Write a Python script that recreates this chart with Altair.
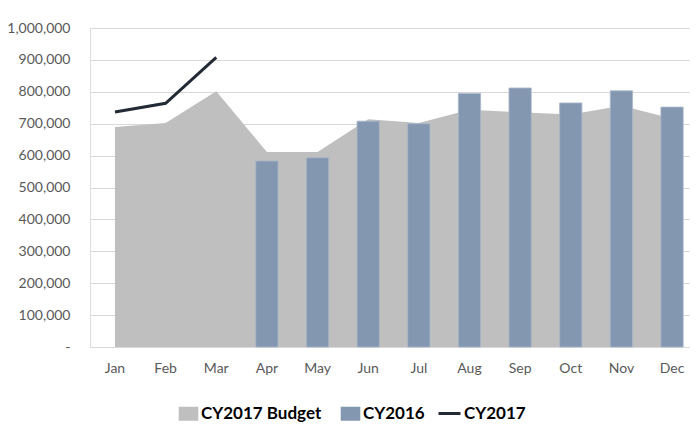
import altair as alt
import pandas as pd

months = ["Jan", "Feb", "Mar", "Apr", "May", "Jun", "Jul", "Aug", "Sep", "Oct", "Nov", "Dec"]
budget_2017 = [690000, 702000, 802000, 611000, 611000, 714000, 702000, 744000, 736000, 729000, 756000, 716000]
cy2016 = [None, None, None, 583000, 593000, 708000, 700000, 795000, 812000, 765000, 803000, 752000]
cy2017 = [737000, 764000, 908000]
y_ticks = [0, 100000, 200000, 300000, 400000, 500000, 600000, 700000, 800000, 900000, 1000000]

budget_df = pd.DataFrame({"month": months, "value": budget_2017, "series": "CY2017 Budget"})
bars_df = pd.DataFrame({"month": months, "value": cy2016, "series": "CY2016"}).dropna()
line_df = pd.DataFrame({"month": months[:3], "value": cy2017, "series": "CY2017"})

FONT = "Lato"
x_scale = alt.Scale(domain=months, paddingInner=0.56, paddingOuter=0.204, align=0.67)
y_scale = alt.Scale(domain=[0, 1000000])

fill_scale = alt.Scale(domain=["CY2017 Budget", "CY2016"], range=["#BFBFBF", "#8497B0"])
stroke_scale = alt.Scale(domain=["CY2017"], range=["#222A35"])

y_axis = alt.Axis(
    title=None, values=y_ticks,
    labelExpr="datum.value == 0 ? '-' : format(datum.value, ',')",
    grid=True, gridColor="#D9D9D9", domain=False, ticks=False, labelOverlap=False,
    labelPadding=20, labelFontSize=14, labelColor="#595959", labelFont=FONT,
)
x_axis = alt.Axis(
    title=None, labelAngle=0, ticks=False, domain=True, domainColor="#D9D9D9",
    labelPadding=14, labelFontSize=14, labelColor="#595959", labelFont=FONT, grid=False,
)

fill_legend = alt.Legend(
    title=None, orient="none", legendX=90, legendY=377, direction="horizontal",
    symbolType="M-1.4,-1H1.4V1H-1.4Z", symbolSize=196, symbolStrokeWidth=0,
    labelFont=FONT, labelFontSize=17, labelFontWeight="bold", labelColor="#000000",
    labelOffset=4, columnPadding=18,
)
stroke_legend = alt.Legend(
    title=None, orient="none", legendX=347, legendY=373, direction="horizontal",
    symbolType="stroke", symbolSize=484, symbolStrokeWidth=3,
    labelFont=FONT, labelFontSize=17, labelFontWeight="bold", labelColor="#000000",
    labelOffset=2,
)

area = alt.Chart(budget_df).mark_area(opacity=1).encode(
    x=alt.X("month:N", scale=x_scale, axis=x_axis, sort=months, bandPosition=0.5),
    y=alt.Y("value:Q", scale=y_scale, axis=y_axis),
    color=alt.Color("series:N", scale=fill_scale, legend=fill_legend),
)

bars = alt.Chart(bars_df).mark_bar(stroke="#A9B7CA", strokeWidth=0.8).encode(
    x=alt.X("month:N", scale=x_scale, axis=x_axis, sort=months),
    y=alt.Y("value:Q", scale=y_scale, axis=y_axis),
    color=alt.Color("series:N", scale=fill_scale, legend=fill_legend),
)

line = alt.Chart(line_df).mark_line(strokeWidth=3).encode(
    x=alt.X("month:N", scale=x_scale, axis=x_axis, sort=months, bandPosition=0.5),
    y=alt.Y("value:Q", scale=y_scale, axis=y_axis),
    stroke=alt.Stroke("series:N", scale=stroke_scale, legend=stroke_legend),
)

chart = alt.layer(area, bars, line).properties(
    width=600, height=319,
    autosize=alt.AutoSizeParams(type="none"),
    padding={"left": 82, "top": 20, "right": 0, "bottom": 80},
).configure_view(stroke=None).configure_axisY(labelOverlap=False).configure(background="white")

chart.save("out.html", embed_options={"renderer": "svg", "actions": False})
